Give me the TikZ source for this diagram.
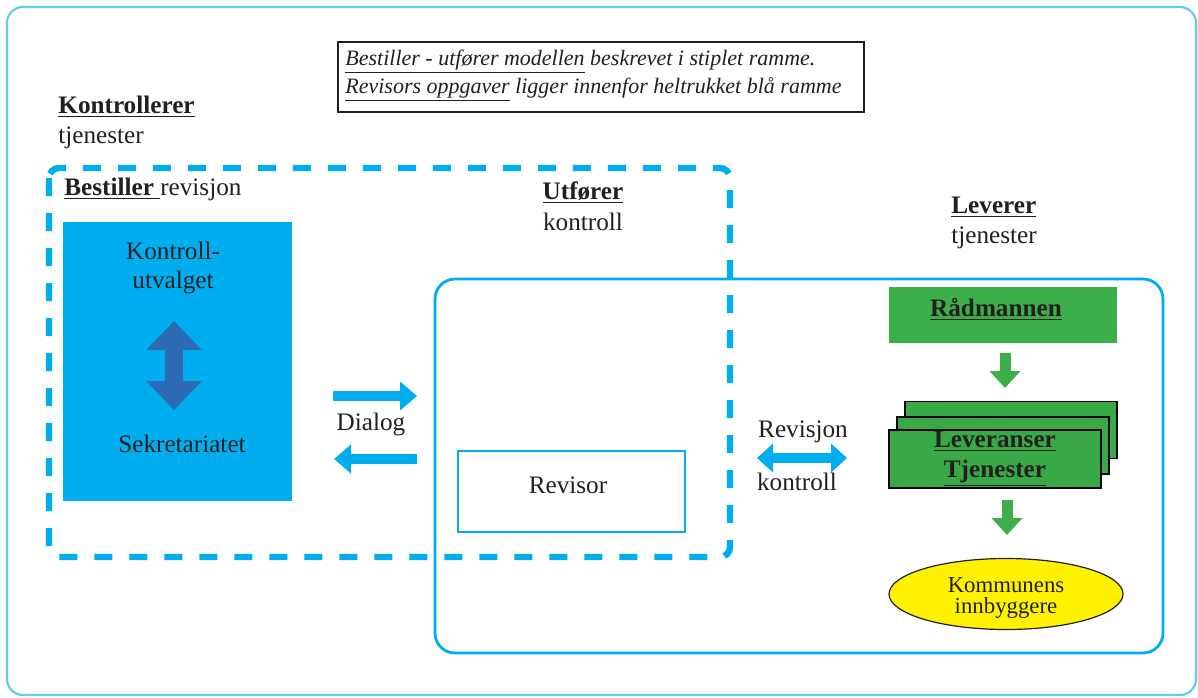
\documentclass[tikz,border=0pt]{standalone}
\usepackage{fontspec}
\setmainfont{Liberation Serif}
\usetikzlibrary{arrows.meta,shapes.geometric}

\definecolor{ink}{HTML}{231F20}
\definecolor{cyanblue}{HTML}{00AEEF}
\definecolor{framecyan}{HTML}{5FCBF3}
\definecolor{deepblue}{HTML}{2D6BB4}
\definecolor{leafgreen}{HTML}{3CAF4A}
\definecolor{stackgreen}{HTML}{39A847}
\definecolor{sunyellow}{HTML}{FFF200}

\tikzset{
  txt/.style={font=\fontsize{12.6}{15}\selectfont, text=ink, inner sep=0pt},
  smalltxt/.style={font=\fontsize{11.4}{13}\selectfont, text=ink, inner sep=0pt},
  notetxt/.style={font=\fontsize{11}{13}\selectfont\itshape, text=ink, inner sep=0pt},
  boxnode/.style={rectangle, inner sep=0pt, outer sep=0pt},
  stackbox/.style={boxnode, fill=stackgreen, draw=black, line width=0.6pt,
    minimum width=106pt, minimum height=28.5pt},
  flatarrow/.style={cyanblue, line width=4.6pt, -{Triangle[length=8.5pt,width=14pt]}},
  twinarrow/.style={cyanblue, line width=5pt, {Triangle[length=8pt,width=14pt]}-{Triangle[length=8pt,width=14pt]}},
  bigtwin/.style={deepblue, line width=9pt, {Triangle[length=14.5pt,width=27pt]}-{Triangle[length=14.5pt,width=27pt]}},
  downarrow/.style={leafgreen, line width=5.5pt, -{Triangle[length=8.5pt,width=15pt]}},
}

\begin{document}
\begin{tikzpicture}[x=0.5pt,y=-0.5pt]
\useasboundingbox (0,0) rectangle (1198,697);

% outer frame
\draw[framecyan, line width=1.1pt, rounded corners=8pt] (7,7) rectangle (1196,695);

% explanatory note
\node[boxnode, draw=ink, line width=0.8pt, minimum width=263pt, minimum height=35pt] (note) at (601,77) {};
\node[notetxt, anchor=base west] (note1) at (345,65)
  {\underline{Bestiller - utfører modellen} beskrevet i stiplet ramme.};
\node[notetxt, anchor=base west] (note2) at (345,93)
  {\underline{Revisors oppgaver} ligger innenfor heltrukket blå ramme};

% heading: controls services
\node[txt, anchor=base west] (kontrollerer) at (58,113) {\textbf{\underline{Kontrollerer}}};
\node[txt, anchor=base west] (kontrtjen) at (58,143) {tjenester};

% revision frame (solid) and purchaser/provider frame (dashed)
\draw[cyanblue, line width=1.4pt, rounded corners=10pt] (435,279) rectangle (1163,653);
\draw[cyanblue, line width=3.2pt, dash pattern=on 9pt off 8.5pt, rounded corners=5pt]
  (49,168) rectangle (730,557);

% purchaser side
\node[txt, anchor=base west] (bestiller) at (64,195) {\underline{\textbf{Bestiller} }revisjon};
\node[boxnode, fill=cyanblue, minimum width=114.5pt, minimum height=139.5pt] (utvalg) at (177.5,361.5) {};
\node[txt, anchor=base] (kutv1) at (173,259) {Kontroll-};
\node[txt, anchor=base] (kutv2) at (173,288) {utvalget};
\node[txt, anchor=base] (sekr) at (182,452) {Sekretariatet};
\coordinate (vtop) at (174,321);
\coordinate (vbot) at (174,410);
\draw[bigtwin] (vtop) -- (vbot);

% dialog
\coordinate (dr1) at (333,396);
\coordinate (dr2) at (417,396);
\coordinate (dl1) at (417,459);
\coordinate (dl2) at (334,459);
\draw[flatarrow] (dr1) -- (dr2);
\draw[flatarrow] (dl1) -- (dl2);
\node[txt, anchor=base] (dialog) at (371,430) {Dialog};

% provider: audit
\node[txt, anchor=base] (utforer) at (583,199) {\textbf{\underline{Utfører}}};
\node[txt, anchor=base] (utfkontr) at (583,230) {kontroll};
\node[boxnode, draw=cyanblue, line width=0.8pt, minimum width=113.5pt, minimum height=40.5pt] (revisor) at (571.5,491.5) {};
\node[txt, anchor=base] (revtxt) at (568,493) {Revisor};

% audit and control
\node[txt, anchor=base] (revisjon) at (803,437) {Revisjon};
\coordinate (rk1) at (757,458);
\coordinate (rk2) at (847,458);
\draw[twinarrow] (rk1) -- (rk2);
\node[txt, anchor=base] (rkontroll) at (797,490) {kontroll};

% delivers services
\node[txt, anchor=base west] (leverer) at (951,213) {\textbf{\underline{Leverer}}};
\node[txt, anchor=base west] (levtjen) at (951,243) {tjenester};

\node[boxnode, fill=leafgreen, minimum width=114pt, minimum height=28pt] (radmann) at (1003,315) {};
\node[txt, anchor=base] (radtxt) at (996,316) {\textbf{\underline{Rådmannen}}};

\coordinate (g1a) at (1005,353);
\coordinate (g1b) at (1005,388);
\draw[downarrow] (g1a) -- (g1b);

\node[stackbox] (stack3) at (1011,430) {};
\node[stackbox] (stack2) at (1003,445.5) {};
\node[stackbox, minimum height=29pt] (stack1) at (995,459) {};
\node[txt, anchor=base] (levtxt) at (995,447) {\textbf{\underline{Leveranser}}};
\node[txt, anchor=base] (tjtxt) at (995,477) {\textbf{\underline{Tjenester}}};

\coordinate (g2a) at (1007,500);
\coordinate (g2b) at (1007,535);
\draw[downarrow] (g2a) -- (g2b);

\node[ellipse, fill=sunyellow, draw=ink, line width=0.6pt, inner sep=0pt,
  minimum width=117pt, minimum height=35.5pt] (innb) at (1006,594) {};
\node[smalltxt, anchor=base] (innb1) at (1006,592) {Kommunens};
\node[smalltxt, anchor=base] (innb2) at (1006,613) {innbyggere};

\end{tikzpicture}
\end{document}
